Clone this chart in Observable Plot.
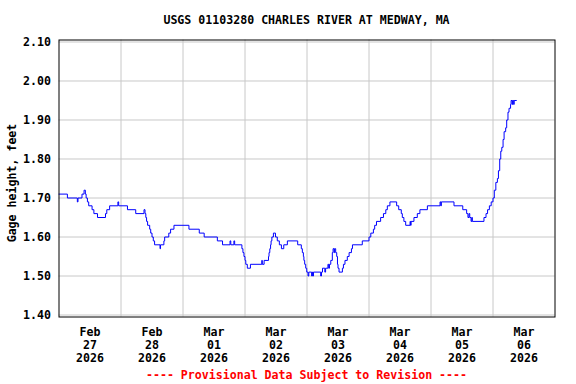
<!DOCTYPE html>
<html>
<head>
<meta charset="utf-8">
<script src="https://cdn.jsdelivr.net/npm/d3@7"></script>
<script src="https://cdn.jsdelivr.net/npm/@observablehq/plot@0.6"></script>
<style>
  html, body { margin: 0; padding: 0; background: #fff; }
  #wrap { position: relative; width: 576px; height: 384px; overflow: hidden;
          font-family: "DejaVu Sans Mono", monospace; font-weight: bold; font-size: 11.6px; }
  .txt { position: absolute; white-space: pre; line-height: 14px; }
  #title { left: 58.5px; width: 496px; top: 13px; text-align: center; color: #000; }
  #caption { left: 58.5px; width: 496px; top: 368px; text-align: center; color: #ff0000; }
  #ylabel { left: 12px; top: 182.5px; transform: translate(-50%, -50%) rotate(-90deg); color: #000; }
  #chart { position: absolute; left: 0; top: 0; }
</style>
</head>
<body>
<div id="wrap">
  <div id="chart"></div>
  <div class="txt" id="title">USGS 01103280 CHARLES RIVER AT MEDWAY, MA</div>
  <div class="txt" id="ylabel">Gage height, feet</div>
  <div class="txt" id="caption">---- Provisional Data Subject to Revision ----</div>
</div>
<script>
// Hours since 2026-02-27 00:00 at which the reading changes, and the gage height (ft)
const hours = [
  0, 3.25, 7.1, 7.35, 8.9, 9.7, 10.2, 10.5, 11.0, 11.5, 12.8, 13.5, 14.9, 18.0, 18.5, 19.6,
  22.8, 23.1, 26.5, 29.7, 32.9, 33.3, 33.6, 33.9, 34.3, 35.1, 35.5, 36.0, 36.5, 37.0, 39.1, 39.3,
  40.6, 40.9, 42.5, 43.2, 44.5, 50.3, 54.3, 56.2, 61.3, 63.3, 66.2, 66.5, 67.7, 68.0, 70.8, 71.2,
  71.6, 72.0, 72.3, 72.9, 74.1, 78.5, 78.7, 79.4, 81.1, 81.3, 81.6, 81.9, 82.1, 82.4, 83.0, 83.8,
  84.5, 85.3, 86.1, 87.0, 88.4, 92.4, 93.8, 94.2, 94.6, 94.8, 95.1, 95.5, 95.9, 96.4, 96.7, 97.8,
  98.0, 98.2, 98.5, 101.3, 101.6, 102.0, 102.9, 103.2, 104.1, 104.4, 104.7, 105.2, 105.8, 106.1, 106.5, 106.7,
  107.1, 107.5, 107.8, 108.0, 108.4, 109.7, 110.1, 110.7, 111.6, 112.3, 113.2, 113.6, 117.4, 120.0, 120.7, 121.7,
  122.2, 122.9, 124.5, 125.6, 126.5, 127.1, 128.1, 130.7, 131.5, 132.5, 132.9, 133.5, 134.2, 135.9, 136.1, 136.3,
  137.4, 138.7, 139.7, 142.6, 147.5, 147.8, 148.0, 152.9, 156.3, 157.8, 158.3, 158.7, 159.0, 159.5, 159.8, 160.0,
  164.5, 165.3, 165.9, 166.6, 167.3, 168.0, 168.5, 169.1, 169.7, 170.1, 170.6, 171.0, 171.4, 171.9, 172.3, 172.9,
  173.3, 173.8, 174.2, 174.8, 175.0, 175.4, 175.6, 176.0, 176.2, 177.1
];
const gage = [
  1.71, 1.70, 1.69, 1.70, 1.71, 1.72, 1.71, 1.70, 1.69, 1.68, 1.67, 1.66, 1.65, 1.66, 1.67, 1.68,
  1.69, 1.68, 1.67, 1.66, 1.67, 1.66, 1.65, 1.64, 1.63, 1.62, 1.61, 1.60, 1.59, 1.58, 1.57, 1.58,
  1.59, 1.60, 1.61, 1.62, 1.63, 1.62, 1.61, 1.60, 1.59, 1.58, 1.59, 1.58, 1.59, 1.58, 1.57, 1.56,
  1.55, 1.54, 1.53, 1.52, 1.53, 1.54, 1.53, 1.54, 1.55, 1.56, 1.57, 1.58, 1.59, 1.60, 1.61, 1.60,
  1.59, 1.58, 1.57, 1.58, 1.59, 1.58, 1.57, 1.56, 1.55, 1.54, 1.53, 1.52, 1.51, 1.50, 1.51, 1.50,
  1.51, 1.50, 1.51, 1.50, 1.51, 1.52, 1.51, 1.52, 1.53, 1.52, 1.53, 1.54, 1.56, 1.57, 1.56, 1.57,
  1.56, 1.55, 1.53, 1.52, 1.51, 1.52, 1.53, 1.54, 1.55, 1.56, 1.57, 1.58, 1.59, 1.60, 1.61, 1.62,
  1.63, 1.64, 1.65, 1.66, 1.67, 1.68, 1.69, 1.68, 1.67, 1.66, 1.65, 1.64, 1.63, 1.64, 1.63, 1.64,
  1.65, 1.66, 1.67, 1.68, 1.69, 1.68, 1.69, 1.68, 1.67, 1.66, 1.65, 1.66, 1.65, 1.64, 1.65, 1.64,
  1.65, 1.66, 1.67, 1.68, 1.69, 1.70, 1.72, 1.74, 1.75, 1.77, 1.80, 1.82, 1.83, 1.85, 1.87, 1.88,
  1.90, 1.92, 1.93, 1.94, 1.95, 1.94, 1.95, 1.94, 1.95, 1.95
];
const startDay = "2026-02-27";
const tickDays = ["2026-02-27","2026-02-28","2026-03-01","2026-03-02","2026-03-03","2026-03-04","2026-03-05","2026-03-06"];
const endDay = "2026-03-07";
const yTicks = [1.40, 1.50, 1.60, 1.70, 1.80, 1.90, 2.00, 2.10];

const t0 = new Date(startDay + "T00:00:00Z");
const data = hours.map((h, i) => ({ t: new Date(+t0 + h * 3600e3), v: gage[i] }));
const midnights = tickDays.slice(1).map(d => new Date(d + "T00:00:00Z"));
const noons = tickDays.map(d => new Date(d + "T12:00:00Z"));
const fmt = d3.utcFormat("%b\n%d\n%Y");

const chart = Plot.plot({
  width: 576,
  height: 384,
  marginLeft: 58.5,
  marginRight: 21.5,
  marginTop: 39.5,
  marginBottom: 67.5,
  style: { fontFamily: "DejaVu Sans Mono, monospace", fontWeight: "bold", fontSize: "11.6px", color: "#000", background: "#fff" },
  x: { type: "utc", domain: [t0, new Date(endDay + "T00:00:00Z")] },
  y: { domain: [1.3949, 2.1051] },
  marks: [
    Plot.gridY(yTicks, { stroke: "#c8c8c8", strokeOpacity: 1, strokeWidth: 1 }),
    Plot.gridX(midnights, { stroke: "#c8c8c8", strokeOpacity: 1, strokeWidth: 1 }),
    Plot.axisY(yTicks, { tickSize: 0, tickPadding: 8, tickFormat: d3.format(".2f"), label: null, fill: "#000" }),
    Plot.axisX(noons, { tickSize: 0, tickPadding: 10, tickFormat: fmt, lineHeight: 1.12, label: null, fill: "#000" }),
    Plot.lineY(data, { x: "t", y: "v", stroke: "#0000ff", strokeWidth: 1, curve: "step-after" }),
    Plot.frame({ stroke: "#000", strokeWidth: 1 })
  ]
});
document.getElementById("chart").appendChild(chart);
</script>
</body>
</html>
